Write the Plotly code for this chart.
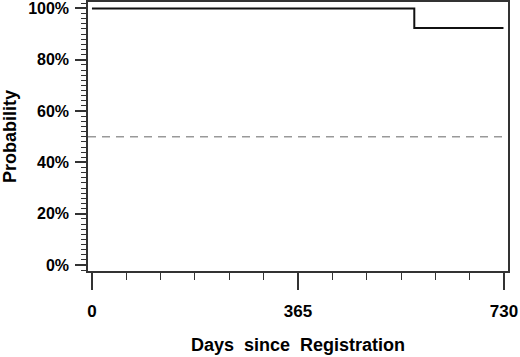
import plotly.graph_objects as go

# Kaplan-Meier step data
days = [0, 571, 729]
survival = [1.0, 0.924, 0.924]
reference_level = 0.5

x_tick_vals = [0, 365, 730]
x_tick_text = ["0", "365", "730"]
y_tick_vals = [0, 0.2, 0.4, 0.6, 0.8, 1.0]
y_tick_text = ["0%", "20%", "40%", "60%", "80%", "100%"]

FONT = "Liberation Sans, Arial, Helvetica, sans-serif"

fig = go.Figure()
fig.add_trace(go.Scatter(
    x=days, y=survival, mode="lines", line_shape="hv",
    line=dict(color="#111111", width=2), showlegend=False, hoverinfo="skip"))

fig.add_shape(type="line", xref="x domain", yref="y", x0=0, x1=1,
              y0=reference_level, y1=reference_level,
              line=dict(color="#999999", width=1.5, dash="8px,6px"))

fig.update_layout(
    width=520, height=357,
    margin=dict(l=88, r=12, t=2, b=86),
    paper_bgcolor="white", plot_bgcolor="white",
    font=dict(family=FONT, color="black"),
    xaxis=dict(
        automargin=False,
        range=[-7, 737], tickvals=x_tick_vals, ticktext=x_tick_text,
        showgrid=False, zeroline=False,
        showline=True, linecolor="#333333", linewidth=1.5, mirror=True,
        ticks="outside", ticklen=17, tickwidth=1.5, tickcolor="#333333",
        minor=dict(dtick=365 / 6, tick0=0, ticklen=7, tickwidth=1.2,
                   tickcolor="#333333", ticks="outside", showgrid=False),
        tickfont=dict(family=FONT, size=17, weight="bold"),
        ticklabelstandoff=7, ticklabeloverflow="allow",
        title=dict(text="Days\u00a0 since\u00a0 Registration", standoff=18,
                   font=dict(family=FONT, size=18, weight="bold")),
        fixedrange=True,
    ),
    yaxis=dict(
        automargin=False,
        range=[-0.023, 1.025], tickvals=y_tick_vals, ticktext=y_tick_text,
        showgrid=False, zeroline=False,
        showline=True, linecolor="#333333", linewidth=1.5, mirror=True,
        ticks="outside", ticklen=11, tickwidth=1.5, tickcolor="#333333",
        minor=dict(dtick=0.02, tick0=0, ticklen=5, tickwidth=1.2,
                   tickcolor="#333333", ticks="outside", showgrid=False),
        tickfont=dict(family=FONT, size=16, weight="bold"),
        ticklabelstandoff=3, ticklabeloverflow="allow",
        title=dict(text="Probability", standoff=12,
                   font=dict(family=FONT, size=18, weight="bold")),
        fixedrange=True,
    ),
)

fig.write_html("out.html", config={"displayModeBar": False},
               post_script="document.body.style.margin='0';document.body.style.overflow='hidden';")
